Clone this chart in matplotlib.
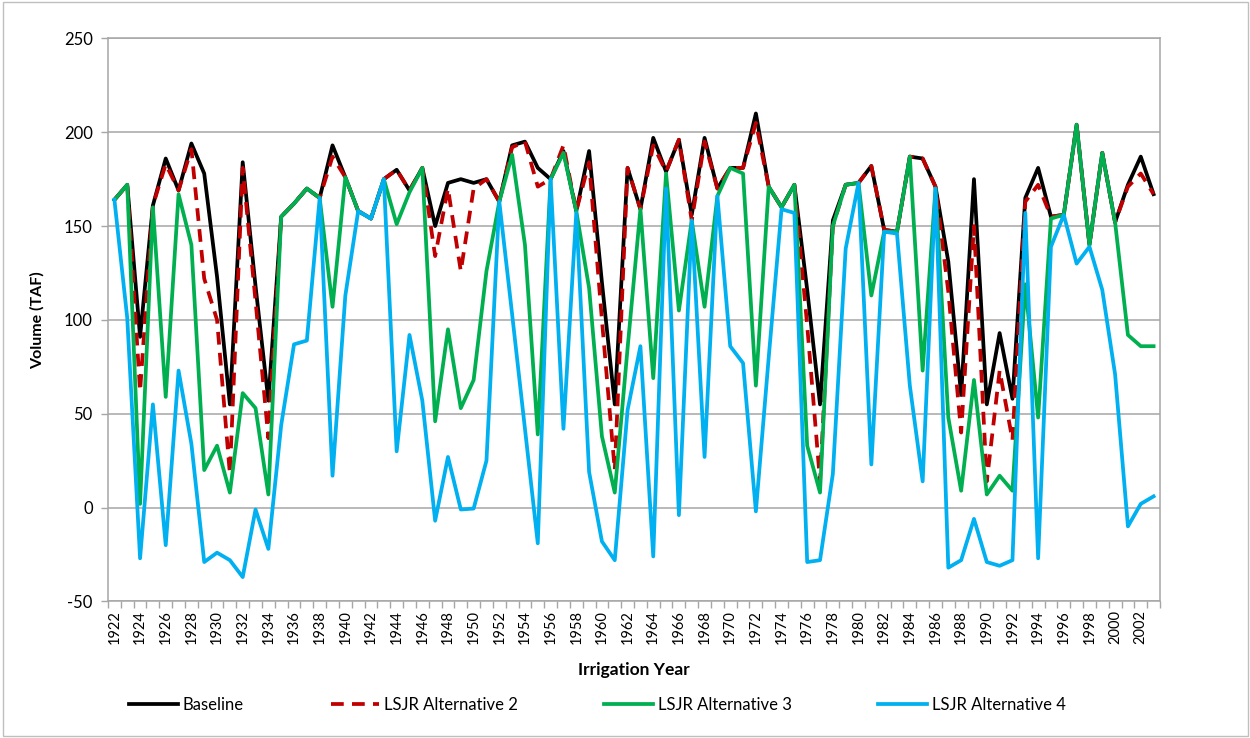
import matplotlib.pyplot as plt
import numpy as np
from matplotlib.patches import Rectangle

plt.rcParams['font.family'] = ['Lato', 'DejaVu Sans']
plt.rcParams['axes.unicode_minus'] = False

# Irrigation years and annual volumes (TAF)
years = list(range(1922, 2004))

baseline = [164, 172, 91, 161, 186, 169, 194, 178, 123, 55,
            184, 118, 57, 155, 162, 170, 165, 193, 176, 158,
            154, 175, 180, 169, 181, 150, 173, 175, 173, 175,
            163, 193, 195, 181, 175, 190, 158, 190, 120, 55,
            181, 159, 197, 179, 196, 156, 197, 170, 181, 181,
            210, 171, 160, 172, 116, 55, 153, 172, 173, 182,
            148, 147, 187, 186, 171, 131, 60, 175, 55, 93,
            58, 165, 181, 155, 156, 204, 140, 189, 152, 172,
            187, 167]

alt2 = [164, 172, 62, 161, 183, 169, 191, 122, 100, 18,
        181, 110, 37, 155, 162, 170, 165, 187, 176, 158,
        154, 175, 180, 169, 181, 134, 170, 126, 170, 175,
        163, 192, 195, 171, 175, 193, 158, 184, 100, 20,
        181, 159, 193, 179, 196, 153, 195, 170, 181, 181,
        205, 171, 160, 172, 97, 14, 150, 172, 173, 182,
        148, 147, 187, 186, 171, 115, 40, 150, 14, 73,
        36, 163, 172, 155, 156, 204, 140, 189, 152, 171,
        178, 167]

alt3 = [164, 172, 2, 160, 59, 167, 140, 20, 33, 8,
        61, 53, 7, 155, 162, 170, 165, 107, 176, 158,
        154, 175, 151, 168, 181, 46, 95, 53, 68, 126,
        163, 188, 140, 39, 175, 189, 158, 117, 38, 8,
        85, 159, 69, 178, 105, 153, 107, 166, 181, 178,
        65, 171, 160, 172, 33, 8, 150, 172, 173, 113,
        147, 147, 187, 73, 170, 48, 9, 68, 7, 17,
        9, 119, 48, 154, 156, 204, 140, 189, 152, 92,
        86, 86]

alt4 = [164, 101, -27, 55, -20, 73, 34, -29, -24, -28,
        -37, -1, -22, 44, 87, 89, 165, 17, 113, 158,
        154, 175, 30, 92, 57, -7, 27, -1, -0.5, 25,
        163, 103, 42, -19, 175, 42, 157, 19, -18, -28,
        52, 86, -26, 170, -4, 153, 27, 166, 86, 77,
        -2, 80, 159, 157, -29, -28, 18, 138, 173, 23,
        147, 146, 65, 14, 170, -32, -28, -6, -29, -31,
        -28, 157, -27, 139, 156, 130, 139, 116, 71, -10,
        2, 6]

fig = plt.figure(figsize=(12.5, 7.38), dpi=100)
ax = fig.add_axes([0.0864, 0.185, 0.8416, 0.763])

x = np.arange(len(years))
lw = 2.7
ax.plot(x, baseline, color='black', lw=lw, label='Baseline', zorder=3)
ax.plot(x, alt2, color='#C00000', lw=lw, linestyle=(0, (3.4, 2.2)),
        label='LSJR Alternative 2', zorder=4)
ax.plot(x, alt3, color='#00B050', lw=lw, label='LSJR Alternative 3', zorder=5)
ax.plot(x, alt4, color='#00B0F0', lw=lw, label='LSJR Alternative 4', zorder=6)

ax.set_xlim(-0.5, len(years) - 0.5)
ax.set_ylim(-50, 250)
ax.set_yticks(np.arange(-50, 251, 50))
ax.yaxis.grid(True, color='#A6A6A6', lw=1.1)
ax.set_axisbelow(True)

# category ticks sit between the years, labels every second year
ax.set_xticks(np.arange(-0.5, len(years), 1))
ax.set_xticklabels([])
ax.set_xticks(x[::2], minor=True)
ax.set_xticklabels([str(y) for y in years[::2]], minor=True, rotation=90,
                   fontsize=10.5)
ax.tick_params(axis='x', which='minor', length=0, pad=6)
ax.tick_params(axis='x', which='major', length=5, color='#A6A6A6', width=1)
ax.tick_params(axis='y', length=5, color='#A6A6A6', width=1,
               labelsize=12, pad=6)

for s in ax.spines.values():
    s.set_color('#A6A6A6')
    s.set_linewidth(1.1)

ax.set_ylabel('Volume (TAF)', fontsize=11.5, fontweight='bold', labelpad=14)
ax.set_xlabel('Irrigation Year', fontsize=12.5, fontweight='bold', labelpad=13)

fig.legend(loc='center', bbox_to_anchor=(0.478, 0.045), ncol=4, frameon=False,
           fontsize=12, handlelength=2.9, columnspacing=5.2, handletextpad=0.3)

fig.patches.append(Rectangle((0.002, 0.003), 0.996, 0.994, transform=fig.transFigure,
                             fill=False, edgecolor='#BFBFBF', lw=1))

fig.savefig('out.png', dpi=100)
